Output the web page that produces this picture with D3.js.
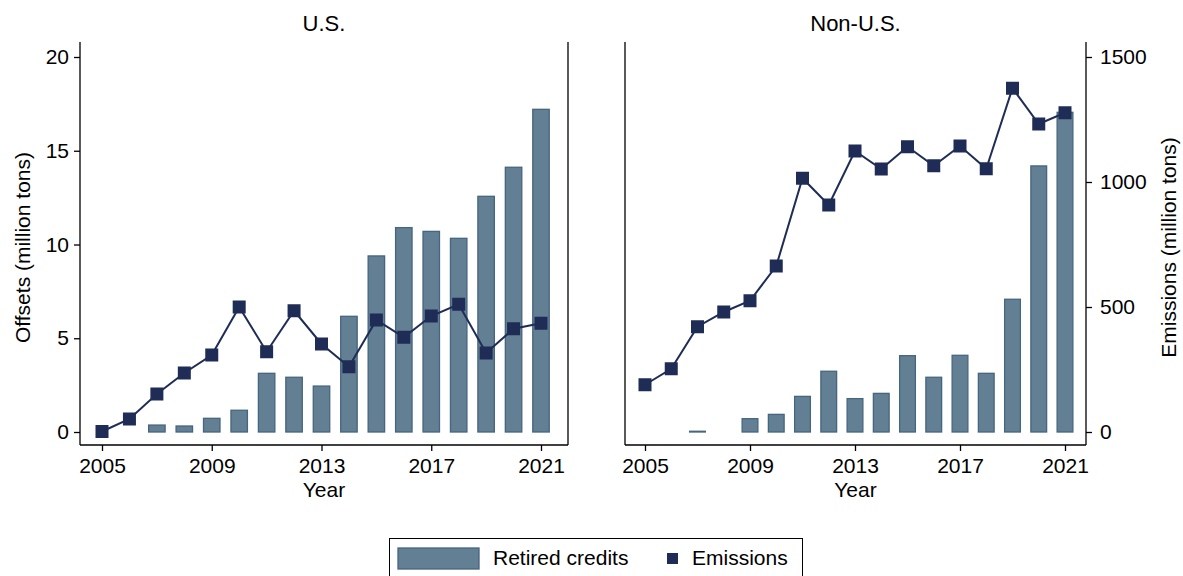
<!DOCTYPE html>
<html>
<head>
<meta charset="utf-8">
<script src="https://cdn.jsdelivr.net/npm/d3@7"></script>
<style>
  body { margin: 0; background: #fff; }
  svg { font-family: "Liberation Sans", Arial, sans-serif; }
</style>
</head>
<body>
<div id="chart"></div>
<script>
// data
const years = [2005, 2006, 2007, 2008, 2009, 2010, 2011, 2012, 2013, 2014, 2015, 2016, 2017, 2018, 2019, 2020, 2021];
const usOffsets = [0, 0, 0.37, 0.32, 0.73, 1.16, 3.13, 2.92, 2.45, 6.17, 9.39, 10.9, 10.7, 10.33, 12.57, 14.12, 17.21];
const usEmissions = [2, 52, 152, 236, 308, 500, 321, 485, 352, 261, 448, 379, 464, 511, 316, 413, 435];
const nonUsOffsets = [0, 0, 0.04, 0, 0.71, 0.94, 1.9, 3.24, 1.78, 2.06, 4.07, 2.92, 4.09, 3.13, 7.08, 14.19, 17.05];
const nonUsEmissions = [189, 253, 421, 480, 525, 664, 1015, 908, 1124, 1052, 1141, 1065, 1144, 1053, 1375, 1232, 1277];
const yearTicks = [2005, 2009, 2013, 2017, 2021];
const offsetTicks = [0, 5, 10, 15, 20];
const emissionTicks = [0, 500, 1000, 1500];

const W = 1183, H = 576;
const barFill = "#627f94", barStroke = "#46657f", navy = "#1f2d56";
const fs = 21;

const svg = d3.select("#chart").append("svg")
    .attr("width", W).attr("height", H);

const plotTop = 42, plotBottom = 445;
const yOff = d3.scaleLinear().domain([0, 20]).range([432, 57]);
const yEm = d3.scaleLinear().domain([0, 1500]).range([432, 57]);

const panels = [
  { title: "U.S.", left: 80, right: 568, padL: 22, padR: 27, offsets: usOffsets, emissions: usEmissions, axis: "left" },
  { title: "Non-U.S.", left: 625, right: 1086, padL: 20, padR: 21, offsets: nonUsOffsets, emissions: nonUsEmissions, axis: "right" }
];

panels.forEach(p => {
  const x = d3.scaleLinear().domain([2005, 2021]).range([p.left + p.padL, p.right - p.padR]);
  const step = x(2006) - x(2005);
  const bw = step * 0.6;
  const g = svg.append("g");

  // bars
  const rows = years.map((yr, i) => ({ yr, off: p.offsets[i], em: p.emissions[i] }));
  g.selectAll("rect.bar")
    .data(rows.filter(d => d.off > 0))
    .enter().append("rect")
    .attr("class", "bar")
    .attr("x", d => x(d.yr) - bw / 2)
    .attr("width", bw)
    .attr("y", d => yOff(d.off))
    .attr("height", d => Math.max(0.5, yOff(0) - yOff(d.off)))
    .attr("fill", barFill)
    .attr("stroke", barStroke)
    .attr("stroke-width", 1.3);

  // emissions line + markers
  const line = d3.line().x(d => x(d.yr)).y(d => yEm(d.em));
  g.append("path")
    .datum(rows)
    .attr("d", line)
    .attr("fill", "none")
    .attr("stroke", navy)
    .attr("stroke-width", 2);

  const ms = 13;
  g.selectAll("rect.mk")
    .data(rows)
    .enter().append("rect")
    .attr("class", "mk")
    .attr("x", d => x(d.yr) - ms / 2)
    .attr("y", d => yEm(d.em) - ms / 2)
    .attr("width", ms).attr("height", ms)
    .attr("fill", navy);

  // frame lines (left, right)
  const frame = g.append("g").attr("stroke", "#000").attr("stroke-width", 1.3);
  frame.append("line").attr("x1", p.left).attr("x2", p.left).attr("y1", plotTop).attr("y2", plotBottom);
  frame.append("line").attr("x1", p.right).attr("x2", p.right).attr("y1", plotTop).attr("y2", plotBottom);

  // x axis
  const xa = g.append("g")
    .attr("transform", `translate(0,${plotBottom})`)
    .call(d3.axisBottom(x).tickValues(yearTicks).tickFormat(d3.format("d")).tickSizeOuter(0).tickSize(6));
  xa.select(".domain").attr("d", `M${p.left},0H${p.right}`).attr("stroke-width", 1.3);
  xa.selectAll("text").attr("font-size", fs).attr("fill", "#000").attr("dy", "0.9em");
  xa.selectAll(".tick line").attr("stroke-width", 1.3);

  g.append("text")
    .attr("x", (p.left + p.right) / 2).attr("y", 497)
    .attr("text-anchor", "middle").attr("font-size", fs)
    .text("Year");

  g.append("text")
    .attr("x", (p.left + p.right) / 2).attr("y", 31)
    .attr("text-anchor", "middle").attr("font-size", 22)
    .text(p.title);

  // y axis
  if (p.axis === "left") {
    const ya = g.append("g").attr("transform", `translate(${p.left},0)`)
      .call(d3.axisLeft(yOff).tickValues(offsetTicks).tickSize(6).tickPadding(5));
    ya.select(".domain").remove();
    ya.selectAll("text").attr("font-size", fs).attr("fill", "#000");
    ya.selectAll(".tick line").attr("stroke-width", 1.3);
    g.append("text")
      .attr("transform", `translate(30,${(plotTop + plotBottom) / 2 + 4}) rotate(-90)`)
      .attr("text-anchor", "middle").attr("font-size", fs)
      .text("Offsets (million tons)");
  } else {
    const ya = g.append("g").attr("transform", `translate(${p.right},0)`)
      .call(d3.axisRight(yEm).tickValues(emissionTicks).tickFormat(d3.format("d")).tickSize(6).tickPadding(8));
    ya.select(".domain").remove();
    ya.selectAll("text").attr("font-size", fs).attr("fill", "#000");
    ya.selectAll(".tick line").attr("stroke-width", 1.3);
    g.append("text")
      .attr("transform", `translate(1176,${(plotTop + plotBottom) / 2 + 4}) rotate(-90)`)
      .attr("text-anchor", "middle").attr("font-size", fs)
      .text("Emissions (million tons)");
  }
});

// legend
const lg = svg.append("g");
lg.append("rect")
  .attr("x", 389.5).attr("y", 538.5).attr("width", 413).attr("height", 50)
  .attr("fill", "#fff").attr("stroke", "#000").attr("stroke-width", 1);
lg.append("rect")
  .attr("x", 398).attr("y", 548).attr("width", 81).attr("height", 21)
  .attr("fill", barFill).attr("stroke", barStroke).attr("stroke-width", 1.3);
lg.append("text").attr("x", 493).attr("y", 565).attr("font-size", fs).text("Retired credits");
lg.append("rect").attr("x", 667).attr("y", 553).attr("width", 11).attr("height", 11).attr("fill", navy);
lg.append("text").attr("x", 692).attr("y", 565).attr("font-size", fs).text("Emissions");
</script>
</body>
</html>
